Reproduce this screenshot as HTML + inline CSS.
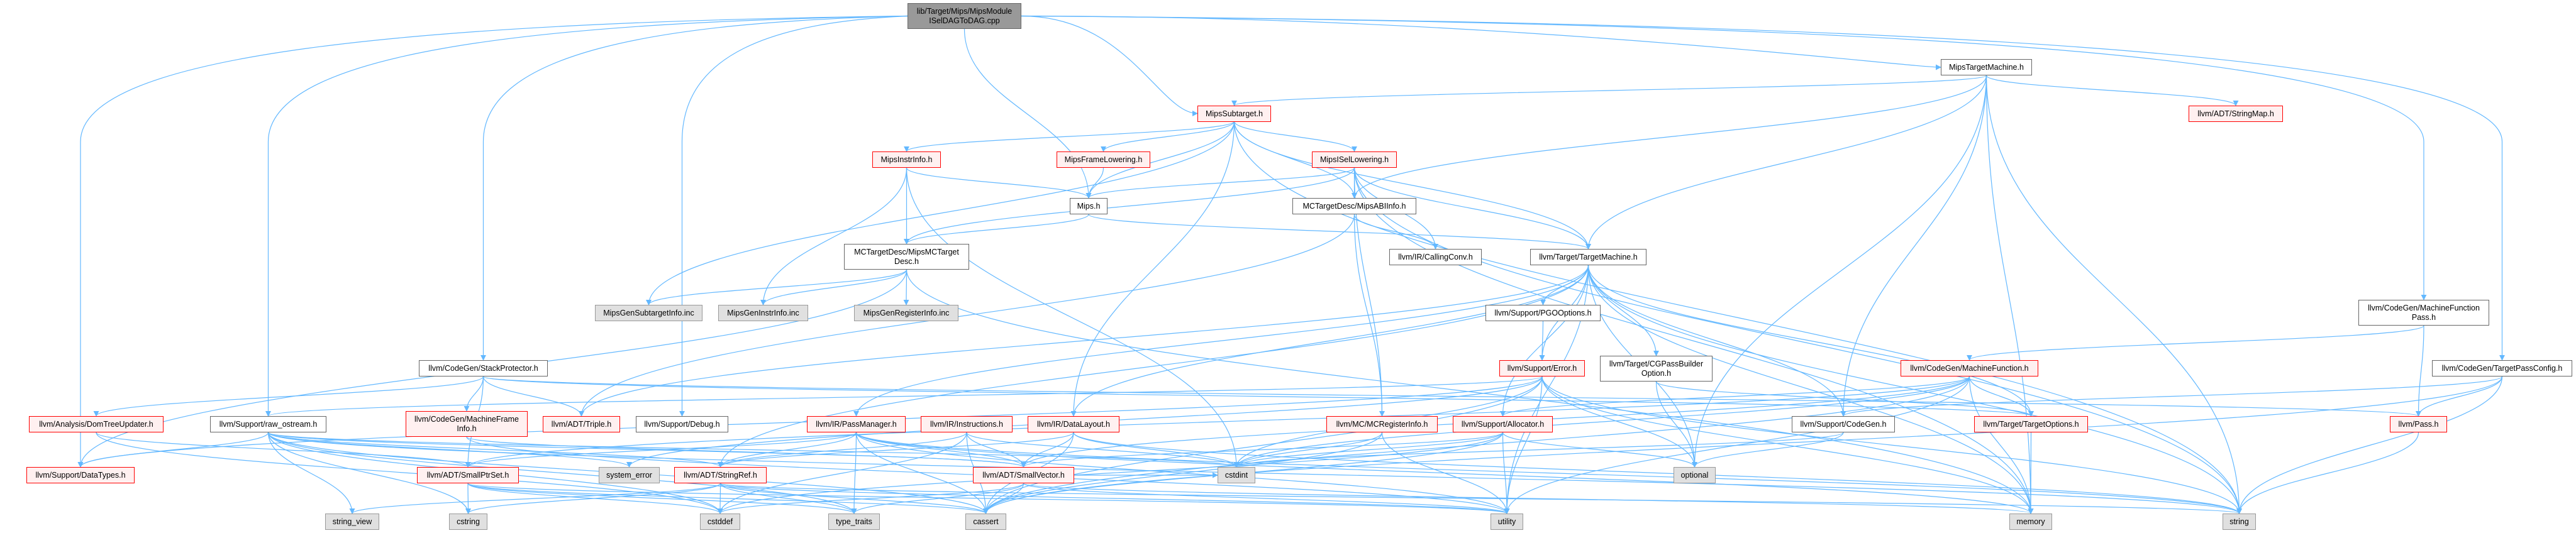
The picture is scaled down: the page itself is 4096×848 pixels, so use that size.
<!DOCTYPE html>
<html><head><meta charset="utf-8"><style>
html,body{margin:0;padding:0;background:#fff;}
#wrap{position:relative;width:4096px;height:848px;overflow:hidden;}
svg{position:absolute;left:0;top:0;}
.n{position:absolute;box-sizing:border-box;display:flex;align-items:center;justify-content:center;text-align:center;font-family:"Liberation Sans",sans-serif;font-size:12.5px;line-height:15px;color:#000;white-space:nowrap;}
.w{background:#fff;border:1.5px solid #666;}
.r{background:#fff0f0;border:1.5px solid #f00;}
.g{background:#e0e0e0;border:1.5px solid #999;}
.root{background:#999;border:1.5px solid #666;}
</style></head><body><div id="wrap">
<svg id="s" width="4096" height="848" xmlns="http://www.w3.org/2000/svg"><defs><marker id="a" viewBox="0 0 10 10" refX="9" refY="5" markerWidth="9" markerHeight="9" markerUnits="userSpaceOnUse" orient="auto"><path d="M0,0L10,5L0,10z" fill="#63b8ff"/></marker></defs><g id="e" fill="none" stroke="#63b8ff" stroke-width="1.2"></g></svg>
<div class="n root" style="left:1443px;top:5px;width:181px;height:41px">lib/Target/Mips/MipsModule<br>ISelDAGToDAG.cpp</div>
<div class="n w" style="left:3086px;top:94px;width:145px;height:26px">MipsTargetMachine.h</div>
<div class="n r" style="left:1904px;top:168px;width:117px;height:26px">MipsSubtarget.h</div>
<div class="n r" style="left:3480px;top:168px;width:150px;height:26px">llvm/ADT/StringMap.h</div>
<div class="n r" style="left:1387px;top:241px;width:109px;height:26px">MipsInstrInfo.h</div>
<div class="n r" style="left:1680px;top:241px;width:149px;height:26px">MipsFrameLowering.h</div>
<div class="n r" style="left:2086px;top:241px;width:135px;height:26px">MipsISelLowering.h</div>
<div class="n w" style="left:1701px;top:315px;width:60px;height:26px">Mips.h</div>
<div class="n w" style="left:2055px;top:315px;width:197px;height:26px">MCTargetDesc/MipsABIInfo.h</div>
<div class="n w" style="left:1342px;top:388px;width:199px;height:41px">MCTargetDesc/MipsMCTarget<br>Desc.h</div>
<div class="n w" style="left:2209px;top:396px;width:147px;height:26px">llvm/IR/CallingConv.h</div>
<div class="n w" style="left:2433px;top:396px;width:185px;height:26px">llvm/Target/TargetMachine.h</div>
<div class="n g" style="left:946px;top:485px;width:171px;height:26px">MipsGenSubtargetInfo.inc</div>
<div class="n g" style="left:1142px;top:485px;width:143px;height:26px">MipsGenInstrInfo.inc</div>
<div class="n g" style="left:1358px;top:485px;width:166px;height:26px">MipsGenRegisterInfo.inc</div>
<div class="n w" style="left:2362px;top:485px;width:183px;height:26px">llvm/Support/PGOOptions.h</div>
<div class="n w" style="left:3750px;top:477px;width:208px;height:41px">llvm/CodeGen/MachineFunction<br>Pass.h</div>
<div class="n w" style="left:666px;top:573px;width:205px;height:26px">llvm/CodeGen/StackProtector.h</div>
<div class="n r" style="left:2384px;top:573px;width:136px;height:26px">llvm/Support/Error.h</div>
<div class="n w" style="left:2544px;top:566px;width:179px;height:41px">llvm/Target/CGPassBuilder<br>Option.h</div>
<div class="n r" style="left:3022px;top:573px;width:219px;height:26px">llvm/CodeGen/MachineFunction.h</div>
<div class="n w" style="left:3867px;top:573px;width:223px;height:26px">llvm/CodeGen/TargetPassConfig.h</div>
<div class="n r" style="left:46px;top:662px;width:214px;height:26px">llvm/Analysis/DomTreeUpdater.h</div>
<div class="n w" style="left:334px;top:662px;width:185px;height:26px">llvm/Support/raw_ostream.h</div>
<div class="n r" style="left:645px;top:654px;width:194px;height:41px">llvm/CodeGen/MachineFrame<br>Info.h</div>
<div class="n r" style="left:863px;top:662px;width:123px;height:26px">llvm/ADT/Triple.h</div>
<div class="n w" style="left:1011px;top:662px;width:147px;height:26px">llvm/Support/Debug.h</div>
<div class="n r" style="left:1283px;top:662px;width:157px;height:26px">llvm/IR/PassManager.h</div>
<div class="n r" style="left:1464px;top:662px;width:146px;height:26px">llvm/IR/Instructions.h</div>
<div class="n r" style="left:1634px;top:662px;width:146px;height:26px">llvm/IR/DataLayout.h</div>
<div class="n r" style="left:2109px;top:662px;width:177px;height:26px">llvm/MC/MCRegisterInfo.h</div>
<div class="n r" style="left:2310px;top:662px;width:159px;height:26px">llvm/Support/Allocator.h</div>
<div class="n w" style="left:2849px;top:662px;width:164px;height:26px">llvm/Support/CodeGen.h</div>
<div class="n r" style="left:3139px;top:662px;width:181px;height:26px">llvm/Target/TargetOptions.h</div>
<div class="n r" style="left:3800px;top:662px;width:91px;height:26px">llvm/Pass.h</div>
<div class="n r" style="left:42px;top:743px;width:172px;height:26px">llvm/Support/DataTypes.h</div>
<div class="n r" style="left:663px;top:743px;width:162px;height:26px">llvm/ADT/SmallPtrSet.h</div>
<div class="n g" style="left:952px;top:743px;width:97px;height:26px">system_error</div>
<div class="n r" style="left:1072px;top:743px;width:147px;height:26px">llvm/ADT/StringRef.h</div>
<div class="n r" style="left:1547px;top:743px;width:161px;height:26px">llvm/ADT/SmallVector.h</div>
<div class="n g" style="left:1936px;top:743px;width:60px;height:26px">cstdint</div>
<div class="n g" style="left:2661px;top:743px;width:67px;height:26px">optional</div>
<div class="n g" style="left:517px;top:817px;width:86px;height:26px">string_view</div>
<div class="n g" style="left:714px;top:817px;width:61px;height:26px">cstring</div>
<div class="n g" style="left:1113px;top:817px;width:64px;height:26px">cstddef</div>
<div class="n g" style="left:1317px;top:817px;width:82px;height:26px">type_traits</div>
<div class="n g" style="left:1535px;top:817px;width:65px;height:26px">cassert</div>
<div class="n g" style="left:2370px;top:817px;width:52px;height:26px">utility</div>
<div class="n g" style="left:3195px;top:817px;width:68px;height:26px">memory</div>
<div class="n g" style="left:3534px;top:817px;width:53px;height:26px">string</div>
</div>
<script>
var N={root:[1443,5,1624,46],mtm:[3086,94,3231,120],sub:[1904,168,2021,193],smap:[3480,168,3630,193],ii:[1387,241,1496,267],fl:[1680,241,1829,267],isl:[2086,241,2221,267],mips:[1701,315,1761,341],abi:[2055,315,2252,341],mcd:[1342,388,1541,429],cc:[2209,396,2356,422],tm:[2433,396,2618,422],gsi:[946,485,1117,511],gii:[1142,485,1285,511],gri:[1358,485,1524,511],pgo:[2362,485,2545,511],mfp:[3750,477,3958,518],sp:[666,573,871,599],err:[2384,573,2520,599],cgp:[2544,566,2723,607],mf:[3022,573,3241,599],tpc:[3867,573,4090,599],dtu:[46,662,260,688],ros:[334,662,519,688],mfi:[645,654,839,695],tri:[863,662,986,688],dbg:[1011,662,1158,688],pm:[1283,662,1440,688],ins:[1464,662,1610,688],dl:[1634,662,1780,688],mcr:[2109,662,2286,688],alc:[2310,662,2469,688],cg:[2849,662,3013,688],to:[3139,662,3320,688],pass:[3800,662,3891,688],dt:[42,743,214,769],sps:[663,743,825,769],se:[952,743,1049,769],sr:[1072,743,1219,769],sv:[1547,743,1708,769],ci:[1936,743,1996,769],opt:[2661,743,2728,769],sv2:[517,817,603,843],cs:[714,817,775,843],cd:[1113,817,1177,843],tt:[1317,817,1399,843],ca:[1535,817,1600,843],ut:[2370,817,2422,843],mem:[3195,817,3263,843],str:[3534,817,3587,843]};
var E={root:"mtm mips ros sp dbg mfp tpc sub dt",mtm:"sub smap tm abi cg mem str opt",sub:"ii fl isl abi gsi dl tm str mips",ii:"mips mcd gii ci",fl:"mips",isl:"mips mcd abi cc tm mcr str mem",mips:"mcd tm",mcd:"gsi gii gri dt mem",abi:"cc mcr tri",tm:"pgo err cgp cg alc dl pm tri to opt str mem ut sr",pgo:"err",err:"ros ci opt ut ca mem str se dt",cgp:"opt to",mf:"alc sv ca ci mem ut to sps",sp:"dtu mfi tri sps pass to",ros:"dt sv2 cs sv sr se ca cd ci tt str",dtu:"sps cd",sps:"cs ca cd ut tt",sr:"cd tt ca str sv2 ut cs",sv:"ca cd mem ut tt ci",pm:"sr sps sv ca tt mem ut str",ins:"sv ca ci cd sr",dl:"sv sr ca ci str",mcr:"ca ci ut",alc:"ca cd ci ut opt sv",cg:"opt ci",mfp:"mf pass",tpc:"pass cg str ca",to:"mem",pass:"str",mfi:"sv ut"};
var g=document.getElementById('e'),d="";
for(var s in E){E[s].split(" ").forEach(function(t){var a=N[s],b=N[t];var sx=(a[0]+a[2])/2,sy=a[3],tx=(b[0]+b[2])/2,ty=b[1];var p;
if(s=="root"&&Math.abs(tx-sx)>400){var right=tx>sx;var x1=right?a[2]:a[0],y1=(a[1]+a[3])/2;var yb=Math.min(y1+200,ty-20);
if(t=="mtm"||t=="sub"){p="M"+x1+","+y1+"C"+(x1+(tx-x1)*0.5)+","+y1+" "+(b[0]-60)+","+((b[1]+b[3])/2)+" "+b[0]+","+((b[1]+b[3])/2);}
else p="M"+x1+","+y1+"C"+(x1+(tx-x1)*0.6)+","+(y1+10)+" "+tx+","+(y1+60)+" "+tx+","+yb+"L"+tx+","+ty;}
else if(b[1]>a[3]+8){var dy=ty-sy;p="M"+sx+","+sy+"C"+sx+","+(sy+dy*0.45)+" "+tx+","+(ty-dy*0.45)+" "+tx+","+ty;}
else{var right=tx>sx;var x1=right?a[2]:a[0],y1=(a[1]+a[3])/2,x2=right?b[0]:b[2],y2=(b[1]+b[3])/2;p="M"+x1+","+y1+"C"+((x1+x2)/2)+","+y1+" "+((x1+x2)/2)+","+y2+" "+x2+","+y2;}
d+='<path d="'+p+'" marker-end="url(#a)"/>';});}
g.innerHTML=d;
</script>
</body></html>
